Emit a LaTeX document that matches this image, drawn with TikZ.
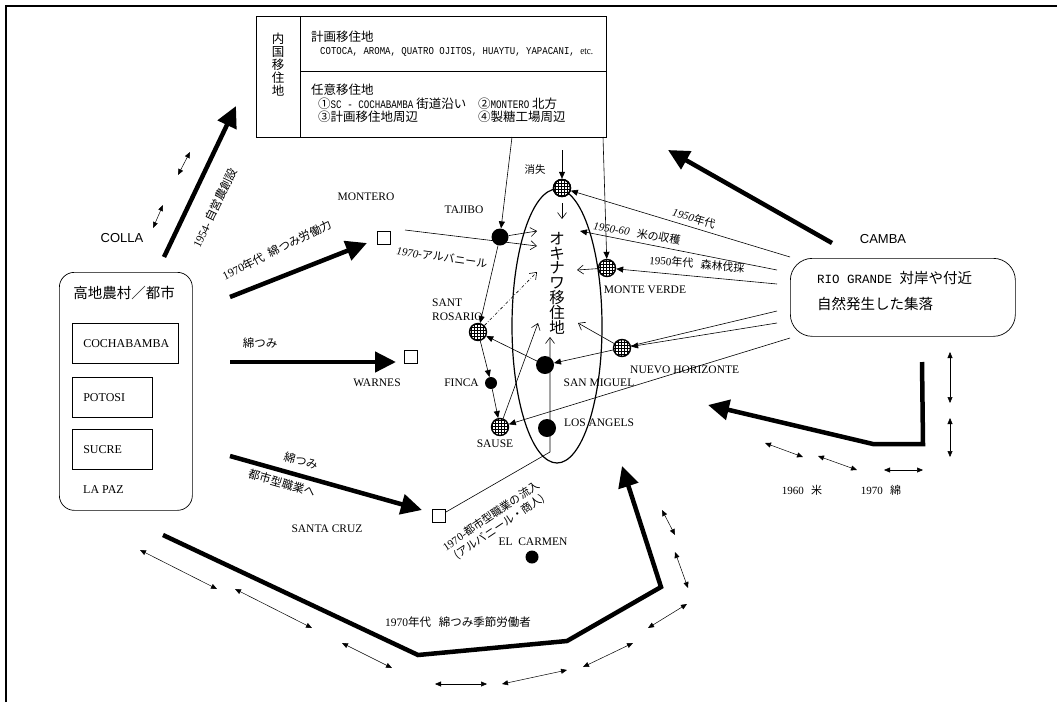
\documentclass[tikz,border=0pt]{standalone}
\usepackage{fontspec}
\setmainfont{Liberation Serif}
\newfontfamily\jp{Noto Sans CJK JP}
\newfontfamily\monof{Liberation Mono}
\newfontfamily\arialf{Liberation Sans}
\usetikzlibrary{arrows.meta,patterns,shapes.geometric}
\begin{document}
\begin{tikzpicture}[x=1pt,y=-1pt,
  thickarr/.style={line width=4.5pt,-{Triangle[length=21pt,width=20pt]},line join=miter},
  dbl/.style={line width=0.5pt,{Triangle[length=6pt,width=5pt]}-{Triangle[length=6pt,width=5pt]}},
  thinl/.style={line width=0.6pt},
  fa/.style={-{Triangle[length=7pt,width=6pt]}},
  oa/.style={-{Straight Barb[length=6pt,width=9pt,line width=0.6pt]}},
  hatch/.style={circle,draw,line width=1.4pt,minimum size=17pt,inner sep=0pt,pattern=grid},
  dot/.style={circle,fill=black,inner sep=0pt,minimum size=#1},
  dot/.default=18pt,
  sq/.style={draw,line width=0.9pt,minimum size=13pt,inner sep=0pt},
  place/.style={font=\fontsize{11.5}{12}\selectfont,inner sep=0pt},
  jlab/.style={font=\jp\fontsize{11.5}{12}\selectfont,inner sep=0pt},
  boxj/.style={font=\jp\fontsize{12.5}{13}\selectfont,inner sep=0pt},
  city/.style={draw,line width=0.6pt,minimum height=40pt,anchor=north west,inner xsep=11pt,align=left,font=\fontsize{12}{13}\selectfont},
  sans/.style={font=\arialf\fontsize{13}{14}\selectfont,inner sep=0pt},
]
\useasboundingbox (0,0) rectangle (1057,702);
% frame
\draw[line width=1.2pt] (6,702) -- (6,6) -- (1057,6);

% ---------- top box ----------
\node[draw,line width=0.8pt,minimum width=350pt,minimum height=121pt,anchor=north west,inner sep=0pt] (top) at (256,16) {};
\draw[line width=0.6pt] (300,16) -- (300,137);
\draw[line width=0.6pt] (300,71) -- (606,71);
\node[font=\jp\fontsize{12.5}{13}\selectfont,align=center,inner sep=0pt] (naikoku) at (278,65) {内\\国\\移\\住\\地};
\node[boxj,anchor=west] (keikaku) at (311,37) {計画移住地};
\node[font=\monof\fontsize{10.5}{12}\selectfont,anchor=west,inner sep=0pt] (cotoca) at (320,52) {\scalebox{0.86}[1]{COTOCA, AROMA, QUATRO OJITOS, HUAYTU, YAPACANI, {\rmfamily etc.}}};
\node[boxj,anchor=west] (nini) at (311,90) {任意移住地};
\node[boxj,anchor=west] (n1) at (318,104) {①{\monof\fontsize{11.5}{12}\selectfont\scalebox{0.8}[1]{SC - COCHABAMBA}} 街道沿い};
\node[boxj,anchor=west] (n2) at (478,104) {②{\monof\fontsize{11.5}{12}\selectfont\scalebox{0.8}[1]{MONTERO}} 北方};
\node[boxj,anchor=west] (n3) at (318,117) {③計画移住地周辺};
\node[boxj,anchor=west] (n4) at (478,117) {④製糖工場周辺};

% ---------- COLLA side ----------
\node[sans] (colla) at (122,238) {COLLA};
\coordinate (c1s) at (164,257);
\coordinate (c1e) at (236,106);
\draw[thickarr] (c1s) -- (c1e);
\node[jlab,rotate=64] (l1954) at (215,208) {{\rmfamily 1954-} 自営農創設};
\draw[dbl] (190,152) -- (178,175);
\draw[dbl] (163,205) -- (153,228);

\node[draw,rounded corners=15pt,line width=0.7pt,minimum width=133pt,minimum height=238pt,anchor=north west,inner sep=0pt] (collabox) at (59,272) {};
\node[font=\jp\fontsize{14.5}{15}\selectfont,inner sep=0pt] (highland) at (124,293) {高地農村／都市};
\node[city,text width=84pt] (cocha) at (72,323) {COCHABAMBA};
\node[city,text width=58pt] (potosi) at (72,377) {POTOSI};
\node[city,text width=58pt] (sucre) at (72,429) {SUCRE};
\node[place,font=\fontsize{12}{13}\selectfont,anchor=west] (lapaz) at (83,490) {LA PAZ};

% thick arrows to towns
\node[sq] (montero) at (384,238) {};
\node[place] (monterol) at (366,197) {MONTERO};
\coordinate (m0) at (230,297);
\coordinate (m1) at (367,243);
\draw[thickarr] (m0) -- (m1);
\node[jlab,rotate=26] (l1970a) at (277,250) {{\rmfamily 1970}年代\ \ 綿つみ労働力};

\node[sq] (warnes) at (411,357) {};
\node[place] (warnesl) at (377,383) {WARNES};
\coordinate (w0) at (230,362);
\coordinate (w1) at (396,362);
\draw[thickarr] (w0) -- (w1);
\node[jlab] (lwata1) at (260,343) {綿つみ};

\node[sq] (santacruz) at (439,516) {};
\node[place] (santacruzl) at (327,529) {SANTA CRUZ};
\coordinate (sc0) at (230,456);
\coordinate (sc1) at (422,510);
\draw[thickarr] (sc0) -- (sc1);
\node[jlab,rotate=-16] (lwata2) at (301,461) {綿つみ};
\node[jlab,rotate=-16] (ltoshi) at (282,483) {都市型職業へ};

% ---------- centre ----------
\node[draw,ellipse,line width=1.2pt,minimum width=90pt,minimum height=274pt,inner sep=0pt] (okinawa) at (557,326) {};
\node[font=\jp\fontsize{15.5}{14.8}\selectfont,align=center,inner sep=0pt] (oktext) at (557,283) {オ\\キ\\ナ\\ワ\\移\\住\\地};

\node[hatch,fill=white] (shoshitsu) at (562,188) {};
\node[hatch] (shoshitsuh) at (562,188) {};
\node[jlab,font=\jp\fontsize{10.5}{11}\selectfont] (shoshitsul) at (535,170) {消失};
\node[dot=17pt] (tajibo) at (500,237) {};
\node[place] (tajibol) at (464,210) {TAJIBO};
\node[hatch] (rosario) at (478,332) {};
\node[place,align=left,anchor=west,font=\fontsize{11.5}{14}\selectfont] (rosariol) at (432,310) {SANT\\ROSARIO};
\node[dot=12pt] (finca) at (491,383) {};
\node[place,anchor=east] (fincal) at (479,383) {FINCA};
\node[hatch] (sause) at (500,427) {};
\node[place] (sausel) at (495,444) {SAUSE};
\node[dot=18pt] (sanmiguel) at (545,365) {};
\node[place] (sanmiguell) at (599,383) {SAN MIGUEL};
\node[dot=18pt] (losangels) at (547,428) {};
\node[place] (losangelsl) at (599,423) {LOS ANGELS};
\node[hatch] (monteverde) at (607,268) {};
\node[place] (monteverdel) at (645,290) {MONTE VERDE};
\node[hatch] (nuevo) at (622,348) {};
\node[place,anchor=west] (nuevol) at (630,370) {NUEVO HORIZONTE};
\node[dot=13pt] (elcarmen) at (532,557) {};
\node[place] (elcarmenl) at (533,542) {EL\ \ CARMEN};

% thin connectors
\coordinate (s0) at (562,150);
\draw[thinl,fa] (s0) -- (shoshitsu);
\coordinate (o1) at (562,203);
\coordinate (o2) at (562,219);
\draw[thinl,oa] (o1) -- (o2);
\coordinate (tb1) at (512,137);
\draw[thinl,fa] (tb1) -- (tajibo);
\coordinate (t2) at (537,231);
\draw[thinl,oa] (tajibo) -- (t2);
\coordinate (m2) at (405,230);
\coordinate (m3) at (537,246);
\draw[thinl,oa] (m2) -- (m3);
\node[font=\jp\fontsize{11}{12}\selectfont,rotate=-8,inner sep=0pt] (lalba) at (442,257) {{\rmfamily\itshape 1970-}アルバニール};
\draw[thinl,fa] (tajibo) -- (rosario);
\coordinate (r2) at (537,272);
\draw[thinl,dash dot,oa] (rosario) -- (r2);
\draw[thinl,fa] (rosario) -- (finca);
\draw[thinl,fa] (finca) -- (sause);
\coordinate (sa2) at (538,323);
\draw[thinl,oa] (sause) -- (sa2);
\draw[thinl,fa] (sanmiguel) -- (rosario);
\draw[thinl,fa] (nuevo) -- (sanmiguel);
\coordinate (nv2) at (578,323);
\draw[thinl,oa] (nuevo) -- (nv2);
\coordinate (mv2) at (577,270);
\draw[thinl,oa] (monteverde) -- (mv2);
\coordinate (tb2) at (603,137);
\draw[thinl,fa] (tb2) -- (monteverde);
\coordinate (la0) at (550,452);
\coordinate (la1) at (550,337);
\draw[thinl,oa] (santacruz) -- (la0) -- (la1);
\node[font=\jp\fontsize{11}{13.5}\selectfont,rotate=34,align=left,inner sep=0pt] (lryu) at (495,522) {{\rmfamily 1970-}都市型職業の流入\\\ \ (アルバニール・商人)};

% ---------- CAMBA side ----------
\node[sans] (camba) at (883,239) {CAMBA};
\coordinate (cb0) at (832,243);
\coordinate (cb1) at (668,150);
\draw[thickarr] (cb0) -- (cb1);
\node[draw,rounded corners=22pt,line width=0.7pt,minimum width=225pt,minimum height=78pt,anchor=north west,inner sep=0pt] (rio) at (790,258) {};
\node[font=\jp\fontsize{14.5}{15}\selectfont,anchor=west,inner sep=0pt] (riot1) at (817,278) {{\monof\fontsize{12.5}{13}\selectfont RIO GRANDE }対岸や付近};
\node[font=\jp\fontsize{14.5}{15}\selectfont,anchor=west,inner sep=0pt] (riot2) at (817,304) {自然発生した集落};

\coordinate (rl1) at (790,257);
\draw[thinl,fa] (rl1) -- (shoshitsu);
\node[font=\jp\fontsize{11}{12}\selectfont,rotate=-17,inner sep=0pt] (l1950a) at (694,218) {{\rmfamily\itshape 1950}年代};
\coordinate (rl2) at (777,270);
\coordinate (rl2e) at (580,231);
\draw[thinl,fa] (rl2) -- (rl2e);
\node[font=\jp\fontsize{11}{12}\selectfont,rotate=-10,inner sep=0pt] (l1950b) at (637,233) {{\rmfamily\itshape 1950-60}\ \ \ 米の収穫};
\coordinate (rl3) at (777,284);
\draw[thinl,fa] (rl3) -- (monteverde);
\node[font=\jp\fontsize{11}{12}\selectfont,rotate=-5,inner sep=0pt] (l1950c) at (697,264) {{\rmfamily 1950}年代\ \ \ 森林伐採};
\coordinate (rl4) at (777,311);
\draw[thinl] (rl4) -- (nuevo);
\coordinate (rl5) at (777,323);
\draw[thinl,fa] (rl5) -- (nuevo);
\coordinate (rl6) at (790,338);
\draw[thinl,fa] (rl6) -- (sause);

% right thick polyline
\coordinate (rg0) at (922,362);
\coordinate (rg1) at (923,444);
\coordinate (rg2) at (873,444);
\coordinate (rg3) at (708,405);
\draw[thickarr] (rg0) -- (rg1) -- (rg2) -- (rg3);
\draw[dbl] (950,352) -- (950,403);
\draw[dbl] (950,418) -- (950,457);
\draw[dbl] (765,443) -- (803,457);
\draw[dbl] (818,456) -- (857,470);
\draw[dbl] (884,470) -- (923,470);
\node[font=\jp\fontsize{11}{12}\selectfont,inner sep=0pt] (l1960) at (802,490) {{\rmfamily 1960}\ \ \ 米};
\node[font=\jp\fontsize{11}{12}\selectfont,inner sep=0pt] (l1970r) at (881,490) {{\rmfamily 1970}\ \ \ 綿};

% bottom thick polyline
\coordinate (bt0) at (163,535);
\coordinate (bt1) at (418,655);
\coordinate (bt2) at (567,641);
\coordinate (bt3) at (661,587);
\coordinate (bt4) at (622,466);
\draw[thickarr] (bt0) -- (bt1) -- (bt2) -- (bt3) -- (bt4);
\node[font=\jp\fontsize{11.5}{12}\selectfont,inner sep=0pt] (lseasonal) at (458,622) {{\rmfamily 1970}年代\ \ \ 綿つみ季節労働者};
\draw[dbl] (140,550) -- (217,589);
\draw[dbl] (235,589) -- (312,628);
\draw[dbl] (342,643) -- (392,668);
\draw[dbl] (435,684) -- (487,684);
\draw[dbl] (502,684) -- (567,670);
\draw[dbl] (583,667) -- (633,643);
\draw[dbl] (648,628) -- (687,604);
\draw[dbl] (675,552) -- (688,588);
\draw[dbl] (662,510) -- (675,535);
\end{tikzpicture}
\end{document}
